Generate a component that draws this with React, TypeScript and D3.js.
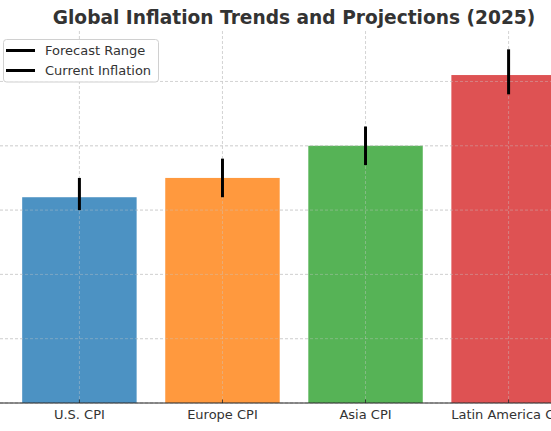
import React from "react";
import * as d3 from "d3";

const categories = ["U.S. CPI", "Europe CPI", "Asia CPI", "Latin America CPI"];
const currentInflation = [3.2, 3.5, 4.0, 5.1];
const forecastLow = [3.0, 3.2, 3.7, 4.8];
const forecastHigh = [3.5, 3.8, 4.3, 5.5];
const colors = ["#1f77b4", "#ff7f0e", "#2ca02c", "#d62728"];
const yTicks = [0, 1, 2, 3, 4, 5];
const legendItems = ["Forecast Range", "Current Inflation"];
const title = "Global Inflation Trends and Projections (2025)";

const W = 551;
const H = 431;
const FONT = "DejaVu Sans, sans-serif";

export default function App() {
  // axes spans beyond the visible (cropped) area
  const axLeft = -5;
  const axRight = 593;
  const axTop = 31;
  const axBottom = 403;

  const x = d3.scaleLinear().domain([-0.59, categories.length - 1 + 0.59]).range([axLeft, axRight]);
  const y = d3.scaleLinear().domain([0, 5.785]).range([axBottom, axTop]);
  const bw = x(0.8) - x(0);

  return (
    <svg width={W} height={H} style={{ position: "absolute", left: 0, top: 0, background: "#fff" }}>
      <rect x={0} y={0} width={W} height={H} fill="#fff" />
      <g>
        {yTicks.map((t) => (
          <line key={"h" + t} x1={axLeft} x2={axRight} y1={y(t)} y2={y(t)} stroke="#b0b0b0" strokeOpacity={0.7} strokeWidth={0.8} strokeDasharray="3,2" />
        ))}
        {categories.map((c, i) => (
          <line key={"v" + i} x1={x(i)} x2={x(i)} y1={axTop} y2={axBottom} stroke="#b0b0b0" strokeOpacity={0.7} strokeWidth={0.8} strokeDasharray="3,2" />
        ))}
      </g>
      {categories.map((c, i) => (
        <rect key={"b" + i} x={x(i) - bw / 2} y={y(currentInflation[i])} width={bw} height={y(0) - y(currentInflation[i])} fill={colors[i]} fillOpacity={0.8} />
      ))}
      <g>
        {yTicks.map((t) => (
          <line key={"h2" + t} x1={axLeft} x2={axRight} y1={y(t)} y2={y(t)} stroke="#d8d8d8" strokeOpacity={0.5} strokeWidth={0.8} strokeDasharray="3,2" />
        ))}
        {categories.map((c, i) => (
          <line key={"v2" + i} x1={x(i)} x2={x(i)} y1={axTop} y2={axBottom} stroke="#d8d8d8" strokeOpacity={0.5} strokeWidth={0.8} strokeDasharray="3,2" />
        ))}
      </g>
      {categories.map((c, i) => (
        <line key={"e" + i} x1={x(i)} x2={x(i)} y1={y(forecastHigh[i])} y2={y(forecastLow[i])} stroke="#000" strokeWidth={3} />
      ))}
      <line x1={axLeft} x2={axRight} y1={axBottom} y2={axBottom} stroke="#222" strokeWidth={1} />
      {categories.map((c, i) => (
        <g key={"t" + i}>
          <line x1={x(i)} x2={x(i)} y1={axBottom} y2={axBottom - 3.5} stroke="#222" strokeWidth={0.8} />
          <text x={x(i)} y={418.5} textAnchor="middle" fontFamily={FONT} fontSize={13} fill="#333">{c}</text>
        </g>
      ))}
      <text x={(axLeft + axRight) / 2} y={24} textAnchor="middle" fontFamily={FONT} fontSize={18.6} fontWeight="bold" fill="#333">{title}</text>
      <g>
        <rect x={3.5} y={39.5} width={155} height={42.5} rx={3} fill="#fff" fillOpacity={0.8} stroke="#d0d0d0" strokeWidth={1} />
        {legendItems.map((l, i) => (
          <g key={"l" + i}>
            <line x1={6} x2={35} y1={50.5 + i * 20} y2={50.5 + i * 20} stroke="#000" strokeWidth={3} />
            <text x={45} y={55 + i * 20} fontFamily={FONT} fontSize={13} fill="#333">{l}</text>
          </g>
        ))}
      </g>
    </svg>
  );
}
